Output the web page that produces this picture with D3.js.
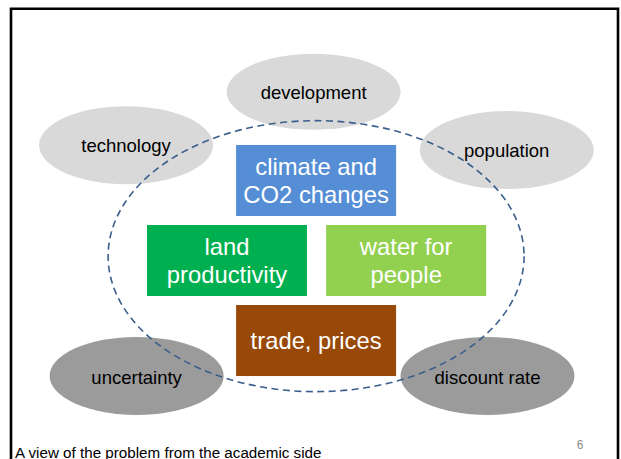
<!DOCTYPE html>
<html>
<head>
<meta charset="utf-8">
<script src="https://cdn.jsdelivr.net/npm/d3@7"></script>
<style>
  html, body { margin: 0; padding: 0; background: #fff; }
  svg { display: block; }
  text { font-family: "Liberation Sans", Arial, sans-serif; }
</style>
</head>
<body>
<svg id="slide" width="621" height="459"></svg>
<script>
// outer drivers (ellipses)
var factorNames = ['development', 'technology', 'population', 'uncertainty', 'discount rate'];
var factorTone = ['light', 'light', 'light', 'dark', 'dark'];
// inner model components (boxes)
var boxLines = [['climate and', 'CO2 changes'], ['land', 'productivity'], ['water for', 'people'], ['trade, prices']];
var boxKinds = ['climate', 'land', 'water', 'trade'];
var caption = 'A view of the problem from the academic side';
var pageNumber = '6';

// layout in slide units (0..100 wide, 0..74 tall)
var factorPos = [[50.5, 14.8], [20.3, 23.4], [81.6, 24.2], [22.0, 60.6], [78.5, 60.6]];
var boxPos = [[50.9, 29.1], [36.55, 42.0], [65.4, 42.0], [50.9, 54.9]];

var svg = d3.select('#slide');
var x = d3.scaleLinear().domain([0, 100]).range([0, 621]);
var y = d3.scaleLinear().domain([0, 74]).range([0, 459]);

var toneColor = d3.scaleOrdinal().domain(['light', 'dark']).range(['#d9d9d9', '#9b9b9b']);
var boxColor = d3.scaleOrdinal().domain(boxKinds).range(['#558ed5', '#00b050', '#92d050', '#984807']);

// slide frame
svg.append('path')
    .attr('d', 'M 11 459 L 11 8.8 L 618 8.8 L 618 459')
    .attr('fill', 'none')
    .attr('stroke', '#000')
    .attr('stroke-width', 2.6);

var factors = factorNames.map(function (n, i) {
    return {name: n, tone: factorTone[i], cx: factorPos[i][0], cy: factorPos[i][1]};
});

svg.selectAll('ellipse.factor')
    .data(factors)
    .enter()
    .append('ellipse')
    .attr('class', 'factor')
    .attr('cx', function (d) { return x(d.cx); })
    .attr('cy', function (d) { return y(d.cy); })
    .attr('rx', 87)
    .attr('ry', function (d, i) { return i === 0 ? 38 : 39; })
    .attr('fill', function (d) { return toneColor(d.tone); });

var boxes = boxLines.map(function (l, i) {
    return {lines: l, kind: boxKinds[i], cx: boxPos[i][0], cy: boxPos[i][1]};
});

var bw = 160;
var bh = 71;

var g = svg.selectAll('g.box')
    .data(boxes)
    .enter()
    .append('g')
    .attr('class', 'box')
    .attr('transform', function (d) {
        return 'translate(' + x(d.cx) + ',' + y(d.cy) + ')';
    });

g.append('rect')
    .attr('x', -bw / 2)
    .attr('y', -bh / 2)
    .attr('width', bw)
    .attr('height', bh)
    .attr('fill', function (d) { return boxColor(d.kind); });

g.append('text')
    .attr('text-anchor', 'middle')
    .attr('fill', '#fff')
    .attr('font-size', 23.8)
    .selectAll('tspan')
    .data(function (d) { return d.lines; })
    .enter()
    .append('tspan')
    .attr('x', 0)
    .attr('y', function (d, i, nodes) {
        var n = nodes.length;
        return (i - (n - 1) / 2) * 28 + 8.5;
    })
    .text(function (d) { return d; });

// dashed boundary of the system
svg.append('ellipse')
    .attr('cx', x(50.9))
    .attr('cy', y(41.3))
    .attr('rx', 208)
    .attr('ry', 135.5)
    .attr('fill', 'none')
    .attr('stroke', '#3b5f8c')
    .attr('stroke-width', 1.6)
    .attr('stroke-dasharray', '7,4.5');

svg.selectAll('text.factor')
    .data(factors)
    .enter()
    .append('text')
    .attr('class', 'factor')
    .attr('x', function (d) { return x(d.cx); })
    .attr('y', function (d, i) { return y(d.cy) + (i >= 3 ? 8 : 7); })
    .attr('text-anchor', 'middle')
    .attr('font-size', 18.5)
    .attr('fill', '#000')
    .text(function (d) { return d.name; });

svg.append('text')
    .attr('x', 15)
    .attr('y', 457.5)
    .attr('font-size', 15.2)
    .attr('fill', '#000')
    .text(caption);

svg.append('text')
    .attr('x', 580)
    .attr('y', 449)
    .attr('text-anchor', 'middle')
    .attr('font-size', 12)
    .attr('fill', '#8c8c8c')
    .text(pageNumber);
</script>
</body>
</html>
